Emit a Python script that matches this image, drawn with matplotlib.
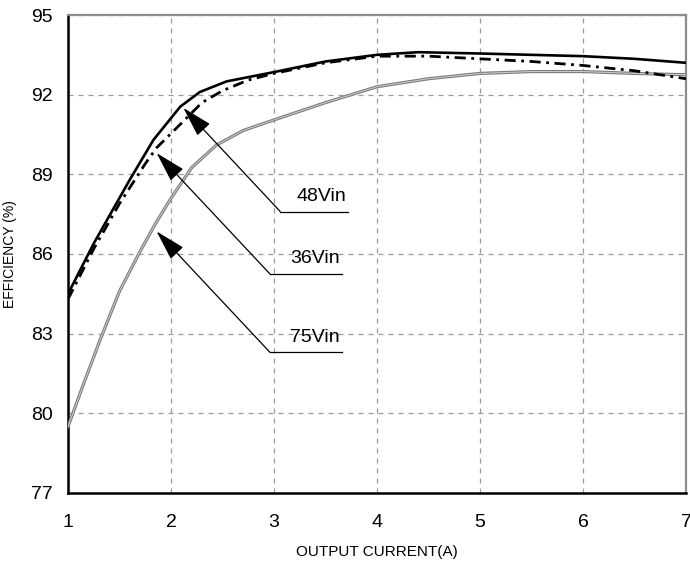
import matplotlib
matplotlib.use("Agg")
import matplotlib.pyplot as plt

plt.rcParams['font.family'] = ['Liberation Sans Narrow', 'Liberation Sans', 'DejaVu Sans']

# efficiency curves
x48 = [1, 1.25, 1.6, 1.83, 2.09, 2.28, 2.54, 3, 3.5, 4, 4.4, 5, 5.5, 6, 6.5, 7]
y48 = [84.5, 86.4, 88.8, 90.3, 91.55, 92.1, 92.5, 92.85, 93.25, 93.5, 93.6, 93.55, 93.5, 93.45, 93.35, 93.2]

x36 = [1, 1.25, 1.5, 1.75, 1.86, 2.12, 2.3, 2.5, 2.75, 3, 3.5, 4, 4.5, 5, 5.5, 6, 6.5, 7]
y36 = [84.3, 86.2, 87.9, 89.4, 90.0, 91.0, 91.7, 92.15, 92.55, 92.8, 93.2, 93.45, 93.45, 93.35, 93.25, 93.1, 92.9, 92.6]

x75 = [1, 1.15, 1.31, 1.5, 1.7, 1.85, 2.0, 2.2, 2.44, 2.7, 3, 3.5, 4, 4.5, 5, 5.5, 6, 6.5, 7]
y75 = [79.5, 81.1, 82.75, 84.6, 86.1, 87.15, 88.1, 89.25, 90.1, 90.65, 91.05, 91.7, 92.3, 92.6, 92.8, 92.87, 92.87, 92.8, 92.75]

xticks = [1, 2, 3, 4, 5, 6, 7]
yticks = [77, 80, 83, 86, 89, 92, 95]

# label, arrow tip (x, y), underline (x0, x1, y)
labels = ["48Vin", "36Vin", "75Vin"]
tips = [(2.12, 91.5), (1.86, 89.8), (1.86, 86.85)]
underlines = [(3.06, 3.72, 87.6), (2.96, 3.66, 85.25), (2.96, 3.66, 82.3)]

fig = plt.figure(figsize=(6.9, 5.77), dpi=100)
ax = fig.add_axes([0.0986, 0.1456, 0.8956, 0.8284])

# 75Vin drawn as a grey double line like the scanned original
ax.plot(x75, y75, color="#7c7c7c", lw=2.3, zorder=3)
ax.plot(x75, y75, color="#cfcfcf", lw=0.7, zorder=3)
ax.plot(x36, y36, color="black", lw=2.0, dashes=(4, 2, 1, 2), zorder=4)
ax.plot(x48, y48, color="black", lw=1.9, zorder=5)

for lab, (tx, ty), (u0, u1, uy) in zip(labels, tips, underlines):
    ax.plot([u0, u1], [uy, uy], color="black", lw=0.9, zorder=6)
    ax.annotate("", xy=(tx, ty), xytext=(u0, uy),
                arrowprops=dict(arrowstyle="-|>,head_length=1.6,head_width=0.45",
                                color="black", lw=0.9, shrinkA=0, shrinkB=0,
                                mutation_scale=12), zorder=6)
    ax.text(u1 - 0.02, uy + 0.25, lab, ha="right", va="bottom", fontsize=14, zorder=6)

ax.set_xlim(1, 7)
ax.set_ylim(77, 95)
ax.set_xticks(xticks)
ax.set_yticks(yticks)
ax.set_xticklabels([str(v) for v in xticks], fontsize=14)
ax.set_yticklabels([str(v) for v in yticks], fontsize=14)
ax.tick_params(axis="x", length=0, pad=15)
ax.tick_params(axis="y", length=0, pad=11)
ax.grid(True, color="#9a9a9a", lw=0.9, linestyle=(0, (4, 4)))

for side in ("left", "bottom"):
    ax.spines[side].set_color("black")
    ax.spines[side].set_linewidth(1.8)
for side in ("top", "right"):
    ax.spines[side].set_color("#8c8c8c")
    ax.spines[side].set_linewidth(1.6)

ax.set_xlabel("OUTPUT CURRENT(A)", fontsize=11, labelpad=10)
ax.set_ylabel("EFFICIENCY (%)", fontsize=10, labelpad=10)

fig.savefig("out.png", dpi=100)
